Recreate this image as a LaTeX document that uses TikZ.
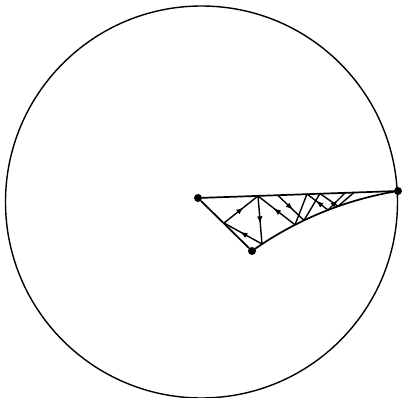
\documentclass[tikz,border=0pt]{standalone}
\usetikzlibrary{arrows.meta,decorations.markings}
\begin{document}
\begin{tikzpicture}[x=1pt,y=1pt,
  dot/.style={circle,fill=black,inner sep=0pt,minimum size=8pt},
  edge/.style={line width=1.7pt},
  ray/.style={line width=1.4pt},
  midarrow/.style={ray,postaction={decorate},decoration={markings,
     mark=at position 0.58 with {\arrow{Latex[length=7.5pt,width=5.5pt]}}}}]
\useasboundingbox (0,0) rectangle (402,-398);
% boundary circle
\node[draw,circle,line width=1.4pt,minimum size=392pt,inner sep=0pt] (disk) at (201.5,-202) {};
% vertices
\node[dot] (A) at (198,-198) {};
\node[dot] (B) at (398,-191) {};
\node[dot] (C) at (252,-251) {};
% triangle sides
\draw[edge] (A) -- (B);
\draw[edge] (A) -- (C);
\draw[edge] (C.center) arc[start angle=125.47,end angle=99.20,radius=347.3pt];
% bounce points
\coordinate (P1) at (224,-223);
\coordinate (T1) at (258,-196);
\coordinate (D1) at (262,-244);
\coordinate (E1) at (295,-224.8);
\coordinate (T2) at (278,-195.5);
\coordinate (E2) at (304,-220.4);
\coordinate (T3) at (307,-194);
\coordinate (T4) at (320,-193.5);
\coordinate (E3) at (328,-210);
\coordinate (E4) at (338,-206.3);
\coordinate (T5) at (345,-193);
\coordinate (T6) at (354,-192.5);
% trajectories
\draw[midarrow] (P1) -- (T1);
\draw[midarrow] (T1) -- (D1);
\draw[midarrow] (D1) -- (P1);
\draw[midarrow] (E1) -- (T1);
\draw[midarrow] (T2) -- (E2);
\draw[ray] (E1) -- (T3);
\draw[ray] (E2) -- (T4);
\draw[midarrow] (E3) -- (T3);
\draw[midarrow] (E3) -- (T5);
\draw[ray] (T4) -- (E4);
\draw[ray] (E4) -- (T6);
\end{tikzpicture}
\end{document}
